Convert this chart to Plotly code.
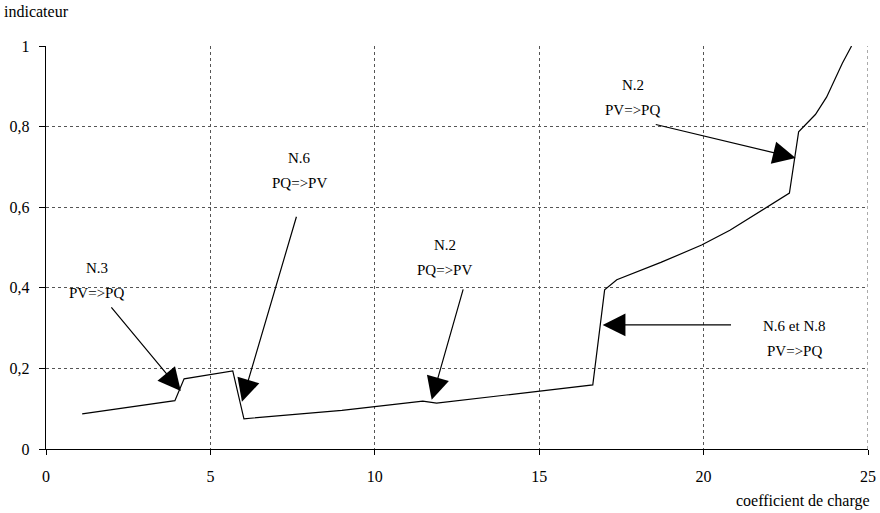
import plotly.graph_objects as go

# Curve data (coefficient de charge vs indicateur)
x_vals = [1.1, 3.92, 4.2, 5.68, 6.02, 9.0, 11.46, 11.88, 14.0, 16.63, 16.99, 17.36, 18.7, 19.94, 20.8, 22.61, 22.89, 23.4, 23.74, 24.22, 24.5]
y_vals = [0.087, 0.12, 0.174, 0.194, 0.075, 0.096, 0.119, 0.114, 0.134, 0.159, 0.395, 0.42, 0.463, 0.506, 0.543, 0.635, 0.787, 0.83, 0.873, 0.957, 1.0]

x_ticks = [0, 5, 10, 15, 20, 25]
y_ticks = [0, 0.2, 0.4, 0.6, 0.8, 1]
y_tick_labels = ["0", "0,2", "0,4", "0,6", "0,8", "1"]

# Annotations: two text lines, text centre, arrow tip, arrow tail
ann_line1 = ["N.3", "N.6", "N.2", "N.6 et N.8", "N.2"]
ann_line2 = ["PV=>PQ", "PQ=>PV", "PQ=>PV", "PV=>PQ", "PV=>PQ"]
ann_text_x = [1.55, 7.72, 12.13, 22.77, 17.84]
ann_text_y = [0.419, 0.69, 0.476, 0.273, 0.871]
tip_x = [4.1, 5.96, 11.73, 16.93, 22.8]
tip_y = [0.144, 0.117, 0.122, 0.308, 0.722]
tail_x = [1.95, 7.63, 12.7, 20.88, 18.5]
tail_y = [0.355, 0.58, 0.40, 0.308, 0.806]

FONT = "Liberation Serif, Times New Roman, DejaVu Serif, serif"

fig = go.Figure()
fig.add_trace(go.Scatter(x=x_vals, y=y_vals, mode="lines",
                         line=dict(color="black", width=1.2), showlegend=False,
                         hoverinfo="skip"))

# dotted grid line on the right edge (x = last tick)
fig.add_shape(type="line", xref="x", yref="y", x0=x_ticks[-1], x1=x_ticks[-1],
              y0=y_ticks[0], y1=y_ticks[-1],
              line=dict(color="#555555", width=1, dash="dot"), layer="below")

annotations = []
for i in range(len(ann_line1)):
    annotations.append(dict(
        x=tip_x[i], y=tip_y[i], ax=tail_x[i], ay=tail_y[i],
        xref="x", yref="y", axref="x", ayref="y",
        text="", showarrow=True, arrowhead=2, arrowsize=3.8, arrowwidth=1.2,
        arrowcolor="black", standoff=0))
    for txt, shift in ((ann_line1[i], 12.5), (ann_line2[i], -12.5)):
        annotations.append(dict(
            x=ann_text_x[i], y=ann_text_y[i], xref="x", yref="y", yshift=shift,
            text=txt, showarrow=False,
            font=dict(family=FONT, size=15, color="black"), align="center"))

annotations.append(dict(x=0, y=1, xref="paper", yref="paper", xanchor="left", yanchor="bottom",
                        text="indicateur", showarrow=False, xshift=-44, yshift=24,
                        font=dict(family=FONT, size=16, color="black")))
annotations.append(dict(x=1, y=0, xref="paper", yref="paper", xanchor="right", yanchor="top",
                        text="coefficient de charge", showarrow=False, xshift=4, yshift=-41,
                        font=dict(family=FONT, size=16, color="black")))

fig.update_layout(
    width=880, height=513,
    margin=dict(l=46, r=12, t=46, b=64),
    paper_bgcolor="white", plot_bgcolor="white",
    annotations=annotations,
    font=dict(family=FONT, size=15, color="black"),
    hovermode=False,
    xaxis=dict(range=[0, 25], tickvals=x_ticks, ticktext=[str(v) for v in x_ticks],
               automargin=False,
               showgrid=True, gridcolor="#555555", griddash="dot", gridwidth=1,
               showline=True, linecolor="black", linewidth=1.2,
               ticks="outside", ticklen=5, tickcolor="black",
               ticklabelstandoff=8, zeroline=False,
               tickfont=dict(family=FONT, size=16, color="black")),
    yaxis=dict(range=[0, 1], tickvals=y_ticks, ticktext=y_tick_labels,
               automargin=False,
               showgrid=True, gridcolor="#555555", griddash="dot", gridwidth=1,
               showline=True, linecolor="black", linewidth=1.2,
               ticks="outside", ticklen=6, tickcolor="black",
               ticklabelstandoff=6, zeroline=False,
               tickfont=dict(family=FONT, size=16, color="black")),
)

fig.write_html("out.html", config={"displayModeBar": False, "staticPlot": True},
               post_script="document.body.style.margin='0';")
